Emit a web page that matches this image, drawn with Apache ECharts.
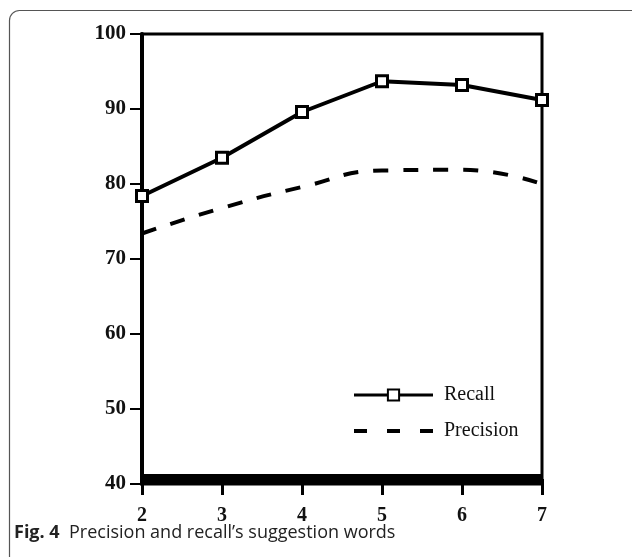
<!DOCTYPE html>
<html>
<head>
<meta charset="utf-8">
<script src="https://cdn.jsdelivr.net/npm/echarts@6/dist/echarts.min.js"></script>
<style>
  html, body { margin: 0; padding: 0; background: #fff; }
  #chart { width: 632px; height: 557px; }
</style>
</head>
<body>
<div id="chart"></div>
<script>
// suggestion word counts on the x axis
var wordCounts = [2, 3, 4, 5, 6, 7];
var recallValues = [78.4, 83.5, 89.6, 93.7, 93.2, 91.2];
var precisionValues = [73.4, 76.8, 79.6, 81.8, 81.9, 80.0];
var captionBold = 'Fig. 4';
var captionText = 'Precision and recall\u2019s suggestion words';

var chart = echarts.init(document.getElementById('chart'));

var serif = '"Liberation Serif", "DejaVu Serif", serif';

chart.setOption({
    animation: false,
    backgroundColor: '#fff',
    grid: {
        left: 142,
        right: 90,
        top: 34,
        bottom: 73,
        show: true,
        borderColor: '#000',
        borderWidth: 3,
        backgroundColor: 'transparent'
    },
    legend: {
        orient: 'vertical',
        left: 352,
        top: 385,
        padding: 0,
        itemWidth: 79,
        itemHeight: 14,
        itemGap: 16,
        data: [
            { name: 'Recall', lineStyle: { width: 3 } },
            { name: 'Precision', itemStyle: { opacity: 0 }, lineStyle: { width: 4, type: [13, 20] } }
        ],
        textStyle: {
            fontFamily: serif,
            fontSize: 20,
            color: '#111',
            padding: [0, 0, 0, 6]
        }
    },
    xAxis: {
        type: 'value',
        min: 2,
        max: 7,
        interval: 1,
        offset: -5,
        splitLine: { show: false },
        axisLine: { lineStyle: { color: '#000', width: 10, cap: 'butt' } },
        axisTick: { length: 16, lineStyle: { color: '#000', width: 3 } },
        axisLabel: {
            margin: 27,
            fontFamily: serif,
            fontWeight: 'bold',
            fontSize: 20,
            color: '#111'
        }
    },
    yAxis: {
        type: 'value',
        min: 40,
        max: 100,
        interval: 10,
        splitLine: { show: false },
        axisLine: { show: true, lineStyle: { color: '#000', width: 4 } },
        axisTick: { show: true, length: 12, lineStyle: { color: '#000', width: 2 } },
        axisLabel: {
            margin: 16,
            fontFamily: serif,
            fontWeight: 'bold',
            fontSize: 21,
            color: '#111'
        }
    },
    series: [
        {
            name: 'Recall',
            type: 'line',
            data: wordCounts.map(function (x, i) { return [x, recallValues[i]]; }),
            symbol: 'rect',
            symbolSize: 11,
            showAllSymbol: true,
            lineStyle: { color: '#000', width: 4 },
            itemStyle: { color: '#fff', borderColor: '#000', borderWidth: 3 },
            z: 5
        },
        {
            name: 'Precision',
            type: 'line',
            smooth: true,
            data: wordCounts.map(function (x, i) { return [x, precisionValues[i]]; }),
            symbol: 'none',
            lineStyle: { color: '#000', width: 4, type: [15, 15] },
            itemStyle: { color: '#000' }
        }
    ],
    graphic: [
        {
            type: 'rect',
            shape: { x: 9.5, y: 10.5, width: 640, height: 560, r: 10 },
            style: { fill: null, stroke: '#555', lineWidth: 1.2 },
            silent: true
        },
        {
            type: 'text',
            left: 14,
            top: 524,
            style: {
                text: '{b|' + captionBold + '}  ' + captionText,
                font: '18px "Open Sans", sans-serif',
                fill: '#222',
                rich: {
                    b: { fontFamily: '"Open Sans", sans-serif', fontWeight: 'bold', fontSize: 18, fill: '#222' }
                }
            }
        }
    ]
});
</script>
</body>
</html>
